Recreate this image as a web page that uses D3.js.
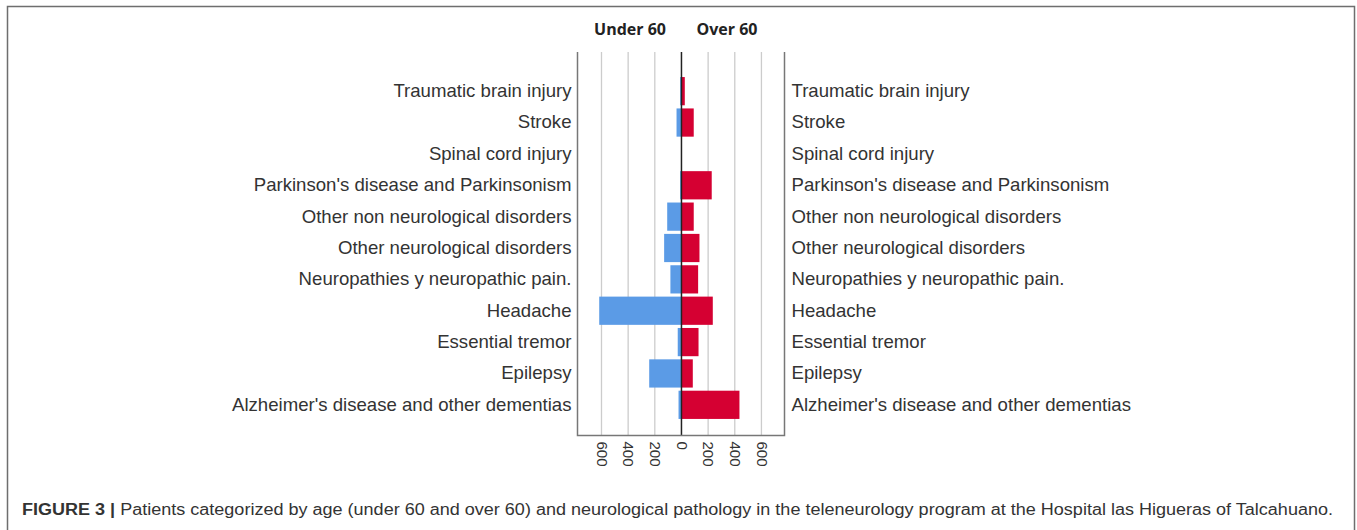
<!DOCTYPE html>
<html>
<head>
<meta charset="utf-8">
<script src="https://cdn.jsdelivr.net/npm/d3@7"></script>
<style>
  body { margin: 0; background: #fff; }
  svg { display: block; }
</style>
</head>
<body>
<div id="chart"></div>
<script>
const width = 1357;
const height = 530;

// categories top to bottom
const categories = [
  "Traumatic brain injury",
  "Stroke",
  "Spinal cord injury",
  "Parkinson's disease and Parkinsonism",
  "Other non neurological disorders",
  "Other neurological disorders",
  "Neuropathies y neuropathic pain.",
  "Headache",
  "Essential tremor",
  "Epilepsy",
  "Alzheimer's disease and other dementias"
];
const under60 = [10, 37, 3, 10, 107, 130, 83, 617, 28, 242, 22];
const over60 = [25, 92, 3, 227, 92, 135, 125, 235, 128, 85, 435];
const ticks = [-600, -400, -200, 0, 200, 400, 600];

const svg = d3.select("#chart")
  .append("svg")
  .attr("width", width)
  .attr("height", height);

// outer frame
svg.append("rect")
  .attr("x", 7.5).attr("y", 6.5)
  .attr("width", 1347).attr("height", 540)
  .attr("fill", "none")
  .attr("stroke", "#6e6e6e")
  .attr("stroke-width", 1.5);

const plotLeft = 577.5, plotRight = 784.5, plotTop = 52, plotBottom = 435.5;

const x = d3.scaleLinear()
  .domain([-780, 773])
  .range([plotLeft, plotRight]);

const y = d3.scaleBand()
  .domain(categories)
  .range([75.5, 420.5])
  .paddingInner(0.1)
  .paddingOuter(0.05);

// gridlines
svg.append("g")
  .selectAll("line")
  .data(ticks.filter(t => t !== 0))
  .enter()
  .append("line")
  .attr("x1", d => x(d)).attr("x2", d => x(d))
  .attr("y1", plotTop).attr("y2", plotBottom)
  .attr("stroke", "#cccccc")
  .attr("stroke-width", 1.3);

// bars
svg.append("g")
  .selectAll("rect")
  .data(categories)
  .enter()
  .append("rect")
  .attr("x", (d, i) => x(-under60[i]))
  .attr("y", d => y(d))
  .attr("width", (d, i) => x(0) - x(-under60[i]))
  .attr("height", y.bandwidth())
  .attr("fill", "#5b9be6");

svg.append("g")
  .selectAll("rect")
  .data(categories)
  .enter()
  .append("rect")
  .attr("x", x(0))
  .attr("y", d => y(d))
  .attr("width", (d, i) => x(over60[i]) - x(0))
  .attr("height", y.bandwidth())
  .attr("fill", "#d50032");

// zero line
svg.append("line")
  .attr("x1", x(0)).attr("x2", x(0))
  .attr("y1", plotTop).attr("y2", plotBottom)
  .attr("stroke", "#222")
  .attr("stroke-width", 1.5);

// plot frame: left, right, bottom
svg.append("path")
  .attr("d", `M${plotLeft},${plotTop}V${plotBottom}H${plotRight}V${plotTop}`)
  .attr("fill", "none")
  .attr("stroke", "#777")
  .attr("stroke-width", 1.5);

// bottom axis, rotated labels
const xAxis = d3.axisBottom(x)
  .tickValues(ticks)
  .tickSize(0)
  .tickPadding(0)
  .tickFormat(d => Math.abs(d));

const gx = svg.append("g")
  .attr("transform", `translate(0, ${plotBottom})`)
  .call(xAxis);
gx.select(".domain").remove();
gx.selectAll("text")
  .attr("transform", "rotate(90)")
  .attr("x", 6)
  .attr("y", 0)
  .attr("dy", "0.35em")
  .style("text-anchor", "start")
  .style("font-family", "Liberation Sans, Arial, sans-serif")
  .style("font-size", "15px")
  .attr("fill", "#333");

// category labels both sides
const yAxisL = d3.axisLeft(y).tickSize(0).tickPadding(6);
const gl = svg.append("g")
  .attr("transform", `translate(${plotLeft}, 0)`)
  .call(yAxisL);
gl.select(".domain").remove();

const yAxisR = d3.axisRight(y).tickSize(0).tickPadding(7);
const gr = svg.append("g")
  .attr("transform", `translate(${plotRight}, 0)`)
  .call(yAxisR);
gr.select(".domain").remove();

[gl, gr].forEach(g => g.selectAll("text")
  .style("font-family", "Liberation Sans, Arial, sans-serif")
  .style("font-size", "18.6px")
  .attr("fill", "#333"));

// headers
svg.append("text")
  .attr("x", 630).attr("y", 35)
  .attr("text-anchor", "middle")
  .style("font-family", "Open Sans, sans-serif")
  .style("font-weight", "bold")
  .style("font-size", "16px")
  .attr("fill", "#222")
  .text("Under 60");

svg.append("text")
  .attr("x", 727).attr("y", 35)
  .attr("text-anchor", "middle")
  .style("font-family", "Open Sans, sans-serif")
  .style("font-weight", "bold")
  .style("font-size", "16px")
  .attr("fill", "#222")
  .text("Over 60");

// caption
const cap = svg.append("text")
  .attr("x", 22).attr("y", 515)
  .style("font-family", "Liberation Sans, Arial, sans-serif")
  .style("font-size", "16px")
  .attr("fill", "#333")
  .attr("textLength", 1311)
  .attr("lengthAdjust", "spacingAndGlyphs");
cap.append("tspan").style("font-weight", "bold").text("FIGURE 3 | ");
cap.append("tspan").text("Patients categorized by age (under 60 and over 60) and neurological pathology in the teleneurology program at the Hospital las Higueras of Talcahuano.");
</script>
</body>
</html>
